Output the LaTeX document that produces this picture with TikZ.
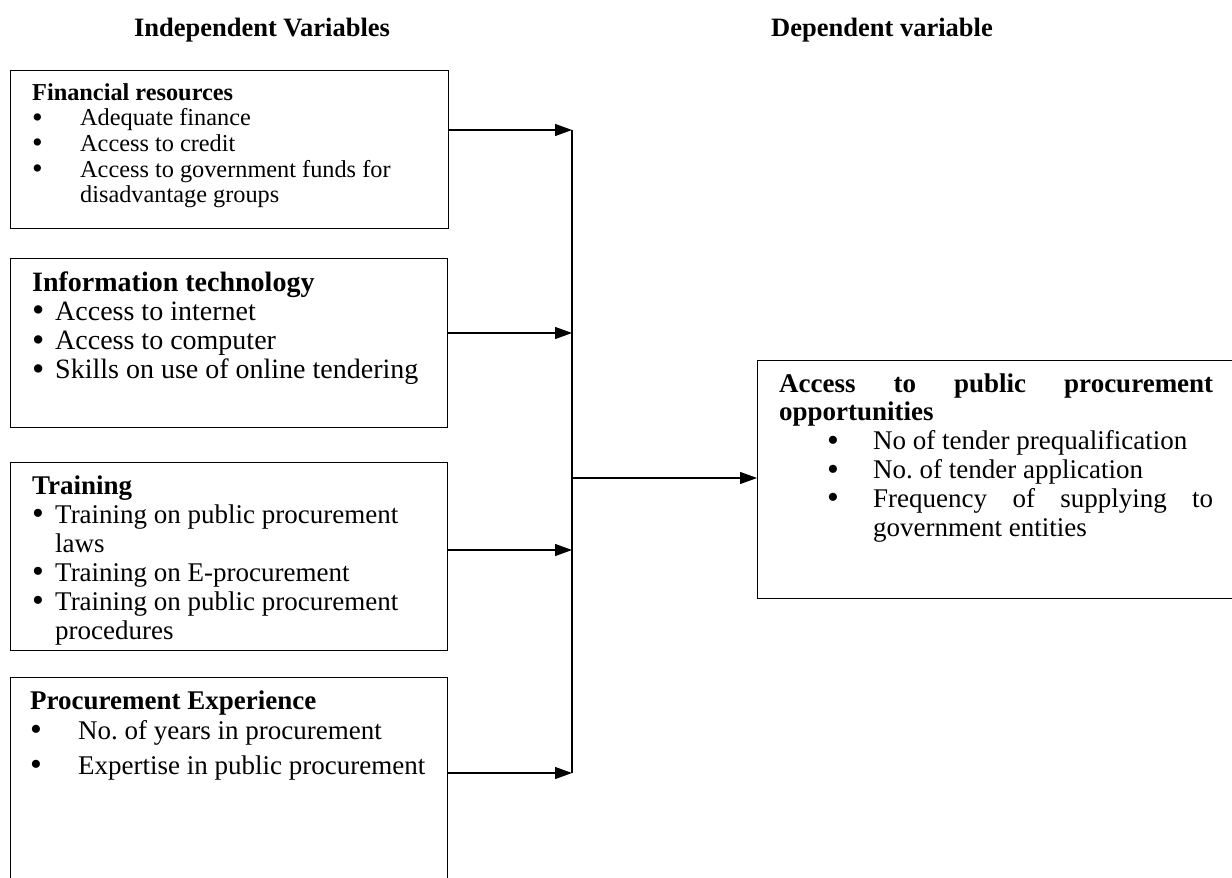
\documentclass[tikz,border=0pt]{standalone}
\usepackage{graphicx}
\usepackage{fontspec}
\setmainfont{Liberation Serif}
\usetikzlibrary{arrows.meta}
\frenchspacing
\newcommand{\bl}{\smash{\raisebox{-0.06em}{\scalebox{1.25}{\textbullet}}}}
\tikzset{>={Triangle[length=17pt,width=12pt]},box/.style={draw,line width=1.2pt,inner sep=0pt,anchor=north west},arr/.style={->,line width=1.2pt},txt/.style={inner sep=0pt,anchor=base west,align=left},head/.style={font=\fontsize{26.5}{30}\selectfont\bfseries,inner sep=0pt,anchor=base}}

\begin{document}
\begin{tikzpicture}[x=1pt,y=-1pt]
\useasboundingbox (0,0) rectangle (1232,878);
\node[head] (indep) at (262,36) {Independent Variables};
\node[head] (depv) at (882,36) {Dependent variable};
% boxes
\node[box,minimum width=438pt,minimum height=158pt] (fin) at (10,70) {};
\node[box,minimum width=437pt,minimum height=169pt] (it) at (10,258) {};
\node[box,minimum width=437pt,minimum height=188pt] (trn) at (10,462) {};
\node[box,minimum width=437pt,minimum height=215pt] (exp) at (10,677) {};
\node[box,minimum width=485pt,minimum height=238pt] (acc) at (757,360) {};
% box texts
\node[txt,font=\fontsize{24.3}{25.7}\selectfont] (finT) at (32,100) {\begin{tabular}[t]{@{}p{48pt}@{}l@{}}
\multicolumn{2}{@{}l@{}}{\bfseries Financial resources}\\
\bl & Adequate finance\\
\bl & Access to credit\\
\bl & Access to government funds for\\
 & disadvantage groups
\end{tabular}};
\node[txt,font=\fontsize{28}{29.3}\selectfont] (itT) at (32,291) {\begin{tabular}[t]{@{}p{23pt}@{}l@{}}
\multicolumn{2}{@{}l@{}}{\bfseries Information technology}\\
\bl & Access to internet\\
\bl & Access to computer\\
\bl & Skills on use of online tendering
\end{tabular}};
\node[txt,font=\fontsize{27}{29}\selectfont] (trnT) at (32,494) {\begin{tabular}[t]{@{}p{23pt}@{}l@{}}
\multicolumn{2}{@{}l@{}}{\bfseries Training}\\
\bl & Training on public procurement\\
 & laws\\
\bl & Training on E-procurement\\
\bl & Training on public procurement\\
 & procedures
\end{tabular}};
\node[txt,font=\fontsize{27}{30}\selectfont] (expT) at (30,709) {\begin{tabular}[t]{@{}p{48pt}@{}l@{}}
\multicolumn{2}{@{}l@{}}{\bfseries Procurement Experience}\\
\bl & No. of years in procurement\\[5pt]
\bl & Expertise in public procurement
\end{tabular}};
\node[txt,font=\fontsize{27}{28.8}\selectfont] (accT) at (779,392) {\begin{tabular}[t]{@{}p{94pt}@{}l@{}}
\multicolumn{2}{@{}l@{}}{\makebox[434pt][s]{\bfseries Access to public procurement}}\\
\multicolumn{2}{@{}l@{}}{\bfseries opportunities}\\
\hspace*{48pt}\bl & No of tender prequalification\\
\hspace*{48pt}\bl & No. of tender application\\
\hspace*{48pt}\bl & \makebox[340pt][s]{Frequency of supplying to}\\
 & government entities
\end{tabular}};
% connectors
\coordinate (a1) at (572,130);
\coordinate (a2) at (572,333);
\coordinate (a3) at (572,550);
\coordinate (a4) at (572,773);
\coordinate (am) at (572,478);
\draw[line width=1.2pt] (a1) -- (a4);
\draw[arr] (fin.east |- a1) -- (a1);
\draw[arr] (it.east |- a2) -- (a2);
\draw[arr] (trn.east |- a3) -- (a3);
\draw[arr] (exp.east |- a4) -- (a4);
\draw[arr] (am) -- (acc.west |- am);
\end{tikzpicture}
\end{document}
